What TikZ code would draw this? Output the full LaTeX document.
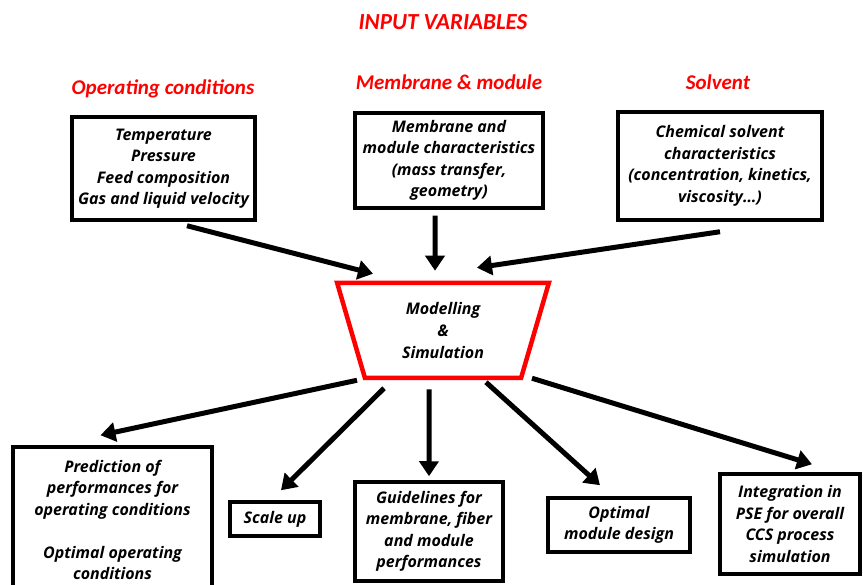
\documentclass[tikz,border=0pt]{standalone}
\usepackage{fontspec}
\setmainfont{Open Sans}
\newfontfamily\labfont{Carlito}
\usetikzlibrary{arrows.meta,shapes.geometric}

\begin{document}
\begin{tikzpicture}[x=1pt,y=-1pt]
\tikzstyle{every node}+=[inner sep=0pt]
\tikzstyle{lab}=[text=red,font={\labfont\bfseries\itshape\fontsize{21}{24}\selectfont}]
\tikzstyle{box}=[draw=black,line width=3.5pt,align=center,font={\bfseries\itshape\fontsize{16}{21.5}\selectfont}]
\tikzstyle{arr}=[line width=5pt,-{Triangle[length=15pt,width=19pt]}]
\clip (0,0) rectangle (863,585);
\useasboundingbox (0,0) rectangle (863,585);
% input variables
\node[lab,font={\labfont\bfseries\itshape\fontsize{23}{26}\selectfont}] (title) at (443,22) {INPUT VARIABLES};
\node[lab] (labop) at (163,89) {Operating conditions};
\node[lab] (labmem) at (449,82) {Membrane \& module};
\node[lab] (labsol) at (718,82) {Solvent};
\node[box,minimum width=183,minimum height=103] (oper) at (163.5,168.5) {Temperature\\Pressure\\Feed composition\\Gas and liquid velocity};
\node[box,minimum width=188,minimum height=95] (memb) at (449,160.5) {Membrane and\\module characteristics\\(mass transfer,\\geometry)};
\node[box,minimum width=204,minimum height=108] (solv) at (720,166) {Chemical solvent\\characteristics\\(concentration, kinetics,\\viscosity\dots)};
% modelling
\node[trapezium,shape border rotate=180,trapezium angle=75.5,trapezium stretches=true,
  minimum width=212,minimum height=95,draw=red,line width=4.5pt,align=center,
  font={\bfseries\itshape\fontsize{16}{22}\selectfont}] (sim) at (443,330.5) {Modelling\\\&\\Simulation};
% outputs
\node[box,minimum width=199,minimum height=146] (pred) at (112.5,520) {Prediction of\\performances for\\operating conditions\\[21.5pt]Optimal operating\\conditions};
\node[box,minimum width=90,minimum height=34] (scale) at (275,519) {Scale up};
\node[box,minimum width=148,minimum height=99] (guide) at (429,531.5) {Guidelines for\\membrane, fiber\\and module\\performances};
\node[box,minimum width=142,minimum height=54] (optim) at (619,525) {Optimal\\module design};
\node[box,minimum width=140,minimum height=100] (integ) at (790,524) {Integration in\\PSE for overall\\CCS process\\simulation};
% arrows in
\draw[arr] ([xshift=23.5pt,yshift=-4pt]oper.south) -- ([xshift=-70pt,yshift=7pt]sim.north);
\draw[arr] ([xshift=-14pt,yshift=-6pt]memb.south) -- ([xshift=-8pt,yshift=10pt]sim.north);
\draw[arr] ([yshift=-10pt]solv.south) -- ([xshift=34pt,yshift=13pt]sim.north);
% arrows out
\draw[arr] ([xshift=-86pt]sim.south) -- ([xshift=-12pt,yshift=10pt]pred.north);
\draw[arr] ([xshift=-59pt,yshift=-8pt]sim.south) -- ([xshift=6pt,yshift=10pt]scale.north);
\draw[arr] ([xshift=-14pt,yshift=-9pt]sim.south) -- ([yshift=4pt]guide.north);
\draw[arr] ([xshift=43pt,yshift=-2pt]sim.south) -- ([xshift=-19pt,yshift=11pt]optim.north);
\draw[arr] ([xshift=89pt,yshift=2pt]sim.south) -- ([xshift=22pt,yshift=8pt]integ.north);
\end{tikzpicture}
\end{document}
